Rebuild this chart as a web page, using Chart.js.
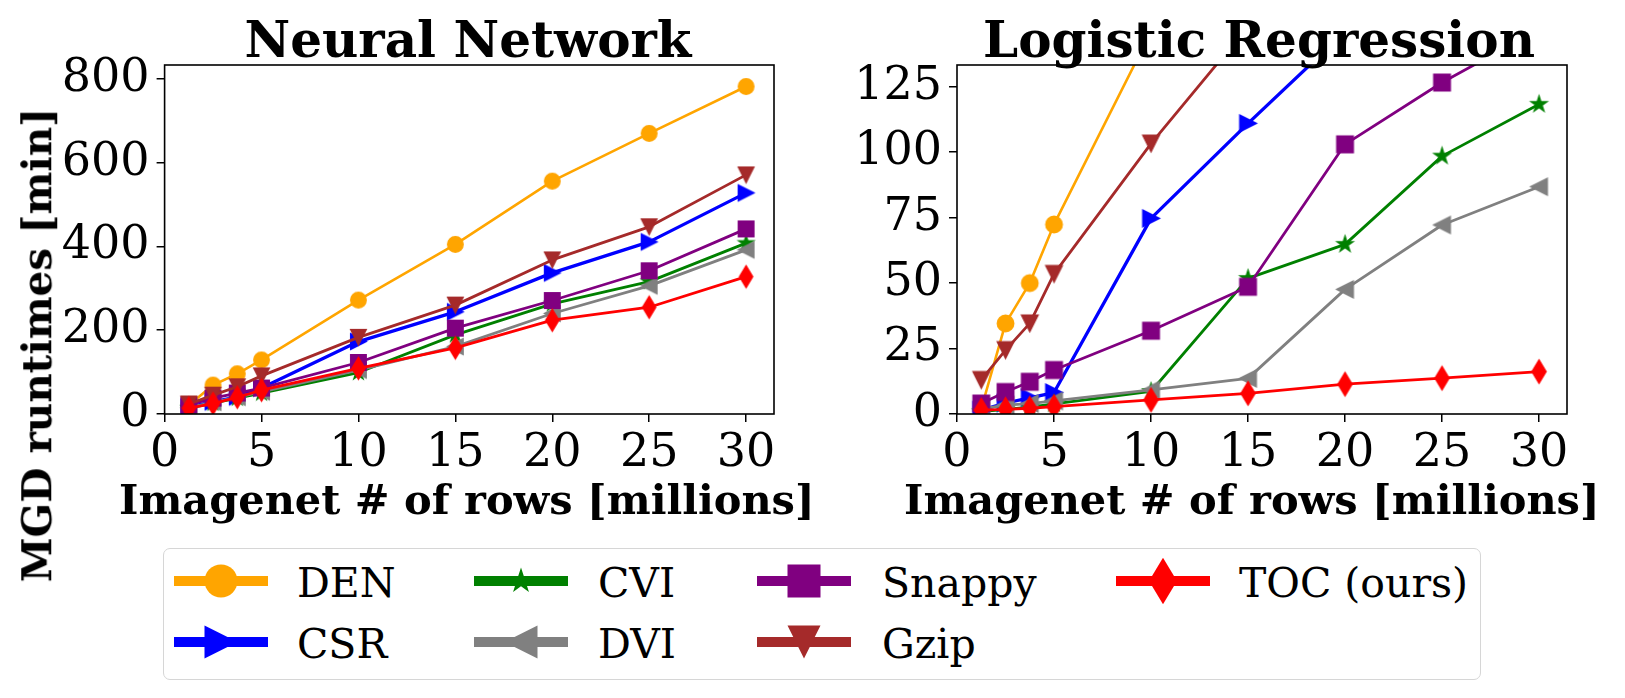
<!DOCTYPE html>
<html><head><meta charset="utf-8">
<script src="https://cdn.jsdelivr.net/npm/chart.js@4.4.0/dist/chart.umd.min.js"></script>
<style>
html,body{margin:0;padding:0;background:#fff;}
body{width:1625px;height:698px;position:relative;overflow:hidden;font-family:"DejaVu Serif",serif;}
canvas{position:absolute;top:0;}
.t{position:absolute;white-space:nowrap;color:#000;font-family:"DejaVu Serif",serif;line-height:normal;}
.b{font-weight:bold;}
#legend{position:absolute;left:163px;top:548px;width:1318px;height:132px;border:1.5px solid #d6d6d6;border-radius:7px;box-sizing:border-box;}
</style></head><body>
<canvas id="c1" width="800" height="480" style="left:0;width:800px;height:480px"></canvas>
<canvas id="c2" width="825" height="480" style="left:800px;width:825px;height:480px"></canvas>
<div id="legend"></div>
<script>
// ---------------- data ----------------
const rows = [1.25, 2.5, 3.75, 5, 10, 15, 20, 25, 30];   // Imagenet # of rows [millions]
const xTicks = [0, 5, 10, 15, 20, 25, 30];
const yTicksNN = [0, 200, 400, 600, 800];
const yTicksLR = [0, 25, 50, 75, 100, 125];

const seriesNames = ['DEN', 'CSR', 'CVI', 'DVI', 'Snappy', 'Gzip', 'TOC (ours)'];

// Neural Network runtimes [min]
const denNN    = [21, 69, 96, 129, 272, 405, 556, 670, 782];
const csrNN    = [17, 29, 41, 62, 173, 244, 337, 411, 528];
const cviNN    = [14, 26, 38, 50, 99, 189, 263, 316, 408];
const dviNN    = [15, 28, 40, 53, 105, 161, 240, 306, 392];
const snappyNN = [22, 38, 50, 62, 123, 205, 271, 342, 442];
const gzipNN   = [24, 45, 65, 91, 183, 260, 368, 447, 571];
const tocNN    = [14, 25, 40, 57, 109, 158, 224, 255, 328];

// Logistic Regression runtimes [min]
const denLR    = [2, 34.6, 50, 72.4, 146, 215, 290, 360, 430];
const csrLR    = [1.5, 4.2, 6.2, 8.2, 74.7, 111, 146, 180, 215];
const cviLR    = [0.9, 1.8, 2.6, 3.9, 8.6, 51.8, 64.8, 98.5, 118.3];
const dviLR    = [2, 3.4, 4, 5, 9.2, 13.6, 47.6, 72.2, 86.8];
const snappyLR = [4, 8.4, 12.3, 16.8, 31.8, 48.6, 103, 126.6, 147];
const gzipLR   = [13, 24.4, 34.6, 53.5, 103.3, 148, 190, 235, 280];
const tocLR    = [1.5, 1.8, 2.2, 2.8, 5.4, 7.9, 11.4, 13.7, 16.2];

// ---------------- styles ----------------
const colors  = ['#FFA500', '#0000FF', '#008000', '#808080', '#800080', '#A52A2A', '#FF0000'];
const markers = ['o', '>', '*', '<', 's', 'v', 'd'];
const lineW   = [2.6, 3.3, 2.8, 2.8, 2.8, 2.8, 2.8];

function shapePath(ctx, m, s, cx, cy) {
  const h = s / 2;
  ctx.beginPath();
  if (m === 'o') { ctx.arc(cx, cy, h, 0, Math.PI * 2); }
  else if (m === 's') { ctx.rect(cx - h, cy - h, s, s); }
  else if (m === '>') { ctx.moveTo(cx + h, cy); ctx.lineTo(cx - h, cy - h); ctx.lineTo(cx - h, cy + h); ctx.closePath(); }
  else if (m === '<') { ctx.moveTo(cx - h, cy); ctx.lineTo(cx + h, cy - h); ctx.lineTo(cx + h, cy + h); ctx.closePath(); }
  else if (m === 'v') { ctx.moveTo(cx, cy + h); ctx.lineTo(cx - h, cy - h); ctx.lineTo(cx + h, cy - h); ctx.closePath(); }
  else if (m === 'd') { const hh = h * Math.SQRT2, hw = 0.6 * hh;
    ctx.moveTo(cx, cy - hh); ctx.lineTo(cx + hw, cy); ctx.lineTo(cx, cy + hh); ctx.lineTo(cx - hw, cy); ctx.closePath(); }
  else if (m === '*') { const ri = h * 0.381966;
    for (let i = 0; i < 10; i++) { const r = i % 2 ? ri : h; const a = -Math.PI / 2 + i * Math.PI / 5;
      const px = cx + r * Math.cos(a), py = cy + r * Math.sin(a); i ? ctx.lineTo(px, py) : ctx.moveTo(px, py); }
    ctx.closePath(); }
}
function markerCanvas(m, s, color) {
  const c = document.createElement('canvas');
  const d = Math.ceil(s * 1.6) + 4; c.width = d; c.height = d;
  const ctx = c.getContext('2d');
  shapePath(ctx, m, s, d / 2, d / 2);
  ctx.fillStyle = color; ctx.fill();
  ctx.lineWidth = 1.4; ctx.strokeStyle = color; ctx.lineJoin = 'miter'; ctx.stroke();
  return c;
}

const framePlugin = {
  id: 'frame',
  afterDatasetsDraw(chart) {
    const a = chart.chartArea, ctx = chart.ctx;
    ctx.save(); ctx.strokeStyle = '#000'; ctx.lineWidth = 1.6;
    ctx.strokeRect(a.left, a.top, a.right - a.left, a.bottom - a.top);
    ctx.restore();
  }
};

function makeChart(id, seriesData, yMax, yTicks, yAxisWidth, padRight, mSize) {
  const datasets = seriesData.map((vals, i) => ({
    label: seriesNames[i],
    data: rows.map((x, j) => ({ x: x, y: vals[j] })),
    borderColor: colors[i], backgroundColor: colors[i],
    borderWidth: lineW[i], pointStyle: markerCanvas(markers[i], mSize, colors[i]),
    pointRadius: 7, tension: 0, clip: 0, order: seriesData.length - i,
    borderJoinStyle: 'round'
  }));
  const tickFont = { family: 'DejaVu Serif', size: 46 };
  return new Chart(document.getElementById(id), {
    type: 'line',
    data: { datasets },
    plugins: [framePlugin],
    options: {
      responsive: false, animation: false, devicePixelRatio: 1, events: [],
      layout: { padding: { top: 65, right: padRight, bottom: 0, left: 0 } },
      plugins: { legend: { display: false }, tooltip: { enabled: false }, title: { display: false } },
      scales: {
        x: {
          type: 'linear', min: 0, max: 31.44,
          afterBuildTicks: s => { s.ticks = xTicks.map(v => ({ value: v })); },
          afterFit: s => { s.height = 66; },
          grid: { drawOnChartArea: false, drawTicks: true, tickLength: 8, color: '#000', lineWidth: 1.5 },
          border: { display: false },
          ticks: { color: '#000', font: tickFont, padding: 4, maxRotation: 0, autoSkip: false }
        },
        y: {
          type: 'linear', min: 0, max: yMax,
          afterBuildTicks: s => { s.ticks = yTicks.map(v => ({ value: v })); },
          afterFit: s => { s.width = yAxisWidth; },
          grid: { drawOnChartArea: false, drawTicks: true, tickLength: 8, color: '#000', lineWidth: 1.5 },
          border: { display: false },
          ticks: { color: '#000', font: tickFont, padding: 7, autoSkip: false }
        }
      }
    }
  });
}

makeChart('c1', [denNN, csrNN, cviNN, dviNN, snappyNN, gzipNN, tocNN], 833.4, yTicksNN, 164.6, 26, 15.5);
makeChart('c2', [denLR, csrLR, cviLR, dviLR, snappyLR, gzipLR, tocLR], 133.3, yTicksLR, 157, 58, 16.5);

// ---------------- text ----------------
function addText(txt, size, bold, cx, baseline, align) {
  const d = document.createElement('div');
  d.className = 't' + (bold ? ' b' : '');
  d.style.fontSize = size + 'px';
  d.textContent = txt;
  const probe = document.createElement('span');
  probe.style.cssText = 'display:inline-block;width:0;height:0;vertical-align:baseline;';
  d.appendChild(probe);
  d.style.left = '0px'; d.style.top = '0px';
  document.body.appendChild(d);
  const off = probe.offsetTop;
  const w = d.offsetWidth;
  d.style.top = (baseline - off) + 'px';
  d.style.left = (align === 'left' ? cx : cx - w / 2) + 'px';
  return d;
}
addText('Neural Network', 50, true, 468, 57);
addText('Logistic Regression', 50, true, 1259, 57);
addText('Imagenet # of rows [millions]', 41.5, true, 467, 514);
addText('Imagenet # of rows [millions]', 41.5, true, 1252, 514);

(function () {
  const d = document.createElement('div');
  d.className = 't b'; d.style.fontSize = '40.5px';
  d.textContent = 'MGD runtimes [min]';
  document.body.appendChild(d);
  const w = d.offsetWidth, h = d.offsetHeight;
  d.style.left = (37.5 - w / 2) + 'px'; d.style.top = (345 - h / 2) + 'px';
  d.style.transform = 'rotate(-90deg)';
})();

// ---------------- legend ----------------
const legendOrder = [0, 1, 2, 3, 4, 5, 6];
const legCols = [174, 474, 757, 1116];
const legTextX = [297, 598, 882, 1239];
const legRowY = [581, 642];
legendOrder.forEach((si, k) => {
  const col = Math.floor(k / 2), row = k % 2;
  const c = document.createElement('canvas');
  c.width = 110; c.height = 60;
  c.style.cssText = 'position:absolute;left:' + (legCols[col] - 8) + 'px;top:' + (legRowY[row] - 30) + 'px;width:110px;height:60px;';
  const ctx = c.getContext('2d');
  ctx.strokeStyle = colors[si]; ctx.lineWidth = 10; ctx.lineCap = 'butt';
  ctx.beginPath(); ctx.moveTo(8, 30); ctx.lineTo(102, 30); ctx.stroke();
  shapePath(ctx, markers[si], markers[si] === '*' ? 27 : 33, 55, 30);
  ctx.fillStyle = colors[si]; ctx.fill();
  document.body.appendChild(c);
  addText(seriesNames[si], 41, false, legTextX[col], legRowY[row] + 16, 'left');
});
</script>
</body></html>
